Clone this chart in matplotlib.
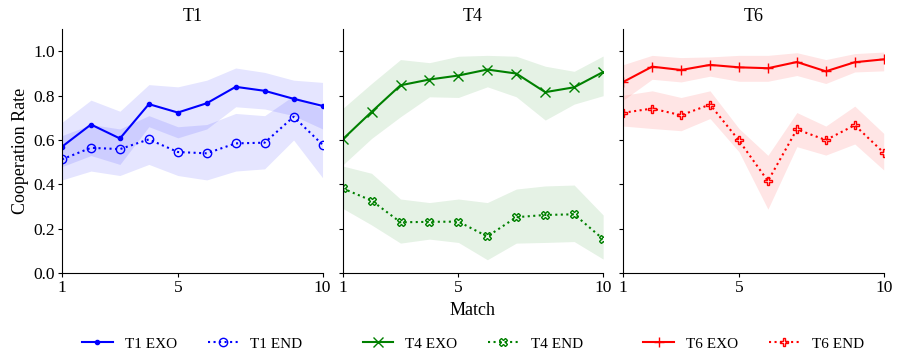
import matplotlib
matplotlib.use("Agg")
import matplotlib.pyplot as plt
import numpy as np

plt.rcParams["font.family"] = ["Liberation Serif", "DejaVu Serif"]
plt.rcParams["font.size"] = 13

matches = np.arange(1, 11)

# T1
t1_exo = [0.570, 0.670, 0.607, 0.762, 0.724, 0.766, 0.840, 0.822, 0.786, 0.754]
t1_exo_hi = [0.68, 0.78, 0.73, 0.85, 0.84, 0.87, 0.925, 0.905, 0.87, 0.86]
t1_exo_lo = [0.48, 0.53, 0.49, 0.66, 0.61, 0.65, 0.75, 0.74, 0.71, 0.65]
t1_end = [0.513, 0.565, 0.559, 0.603, 0.546, 0.540, 0.585, 0.588, 0.705, 0.579]
t1_end_hi = [0.62, 0.67, 0.65, 0.71, 0.66, 0.67, 0.72, 0.71, 0.80, 0.74]
t1_end_lo = [0.42, 0.46, 0.44, 0.49, 0.44, 0.42, 0.46, 0.47, 0.60, 0.43]

# T4
t4_exo = [0.603, 0.727, 0.847, 0.873, 0.891, 0.918, 0.900, 0.816, 0.838, 0.907]
t4_exo_hi = [0.742, 0.855, 0.963, 0.949, 0.978, 0.982, 0.978, 0.933, 0.910, 0.979]
t4_exo_lo = [0.487, 0.607, 0.705, 0.795, 0.792, 0.840, 0.795, 0.690, 0.762, 0.800]
t4_end = [0.382, 0.327, 0.229, 0.231, 0.232, 0.165, 0.252, 0.262, 0.265, 0.153]
t4_end_hi = [0.483, 0.450, 0.334, 0.318, 0.334, 0.318, 0.379, 0.393, 0.397, 0.262]
t4_end_lo = [0.292, 0.217, 0.135, 0.153, 0.138, 0.060, 0.135, 0.138, 0.142, 0.063]

# T6
t6_exo = [0.862, 0.931, 0.916, 0.939, 0.928, 0.924, 0.952, 0.910, 0.951, 0.964]
t6_exo_hi = [0.940, 0.982, 0.972, 0.975, 0.982, 0.982, 0.994, 0.963, 0.990, 0.997]
t6_exo_lo = [0.780, 0.874, 0.862, 0.888, 0.865, 0.865, 0.891, 0.855, 0.907, 0.912]
t6_end = [0.723, 0.742, 0.712, 0.760, 0.598, 0.415, 0.648, 0.600, 0.667, 0.543]
t6_end_hi = [0.802, 0.822, 0.792, 0.822, 0.652, 0.531, 0.724, 0.663, 0.753, 0.630]
t6_end_lo = [0.663, 0.652, 0.642, 0.697, 0.547, 0.288, 0.570, 0.532, 0.582, 0.465]

panels = [
    ("T1", "blue", ".", "o",
     (t1_exo, t1_exo_lo, t1_exo_hi), (t1_end, t1_end_lo, t1_end_hi)),
    ("T4", "green", "x", "X",
     (t4_exo, t4_exo_lo, t4_exo_hi), (t4_end, t4_end_lo, t4_end_hi)),
    ("T6", "red", "+", "P",
     (t6_exo, t6_exo_lo, t6_exo_hi), (t6_end, t6_end_lo, t6_end_hi)),
]

fig, axes = plt.subplots(1, 3, figsize=(8.99, 3.56), dpi=100, sharey=True)
fig.subplots_adjust(left=0.069, right=0.983, top=0.918, bottom=0.233, wspace=0.077)

for ax, (name, col, m_exo, m_end, exo, end) in zip(axes, panels):
    ax.fill_between(matches, exo[1], exo[2], color=col, alpha=0.1, lw=0)
    ax.fill_between(matches, end[1], end[2], color=col, alpha=0.1, lw=0)
    ax.plot(matches, exo[0], color=col, ls="-", lw=1.5, marker=m_exo,
            ms=7 if m_exo != "." else 6, label=f"{name} EXO")
    ax.plot(matches, end[0], color=col, ls=":", lw=1.5, marker=m_end, ms=6,
            mfc="none", mew=1.0, label=f"{name} END")
    ax.set_title(name, fontsize=13)
    ax.set_xlim(1, 10)
    ax.set_ylim(0, 1.1)
    ax.set_xticks([1, 5, 10])
    ax.set_yticks([0.0, 0.2, 0.4, 0.6, 0.8, 1.0])
    ax.spines["top"].set_visible(False)
    ax.spines["right"].set_visible(False)
    ax.tick_params(length=3, labelsize=12.5, pad=2)
    ax.legend(loc="center", bbox_to_anchor=(0.5, -0.29), ncol=2, frameon=False,
              fontsize=11)

axes[0].set_ylabel("Cooperation Rate", fontsize=13, labelpad=3)
axes[1].set_xlabel("Match", fontsize=13, labelpad=4)

fig.savefig("out.png", dpi=100)
